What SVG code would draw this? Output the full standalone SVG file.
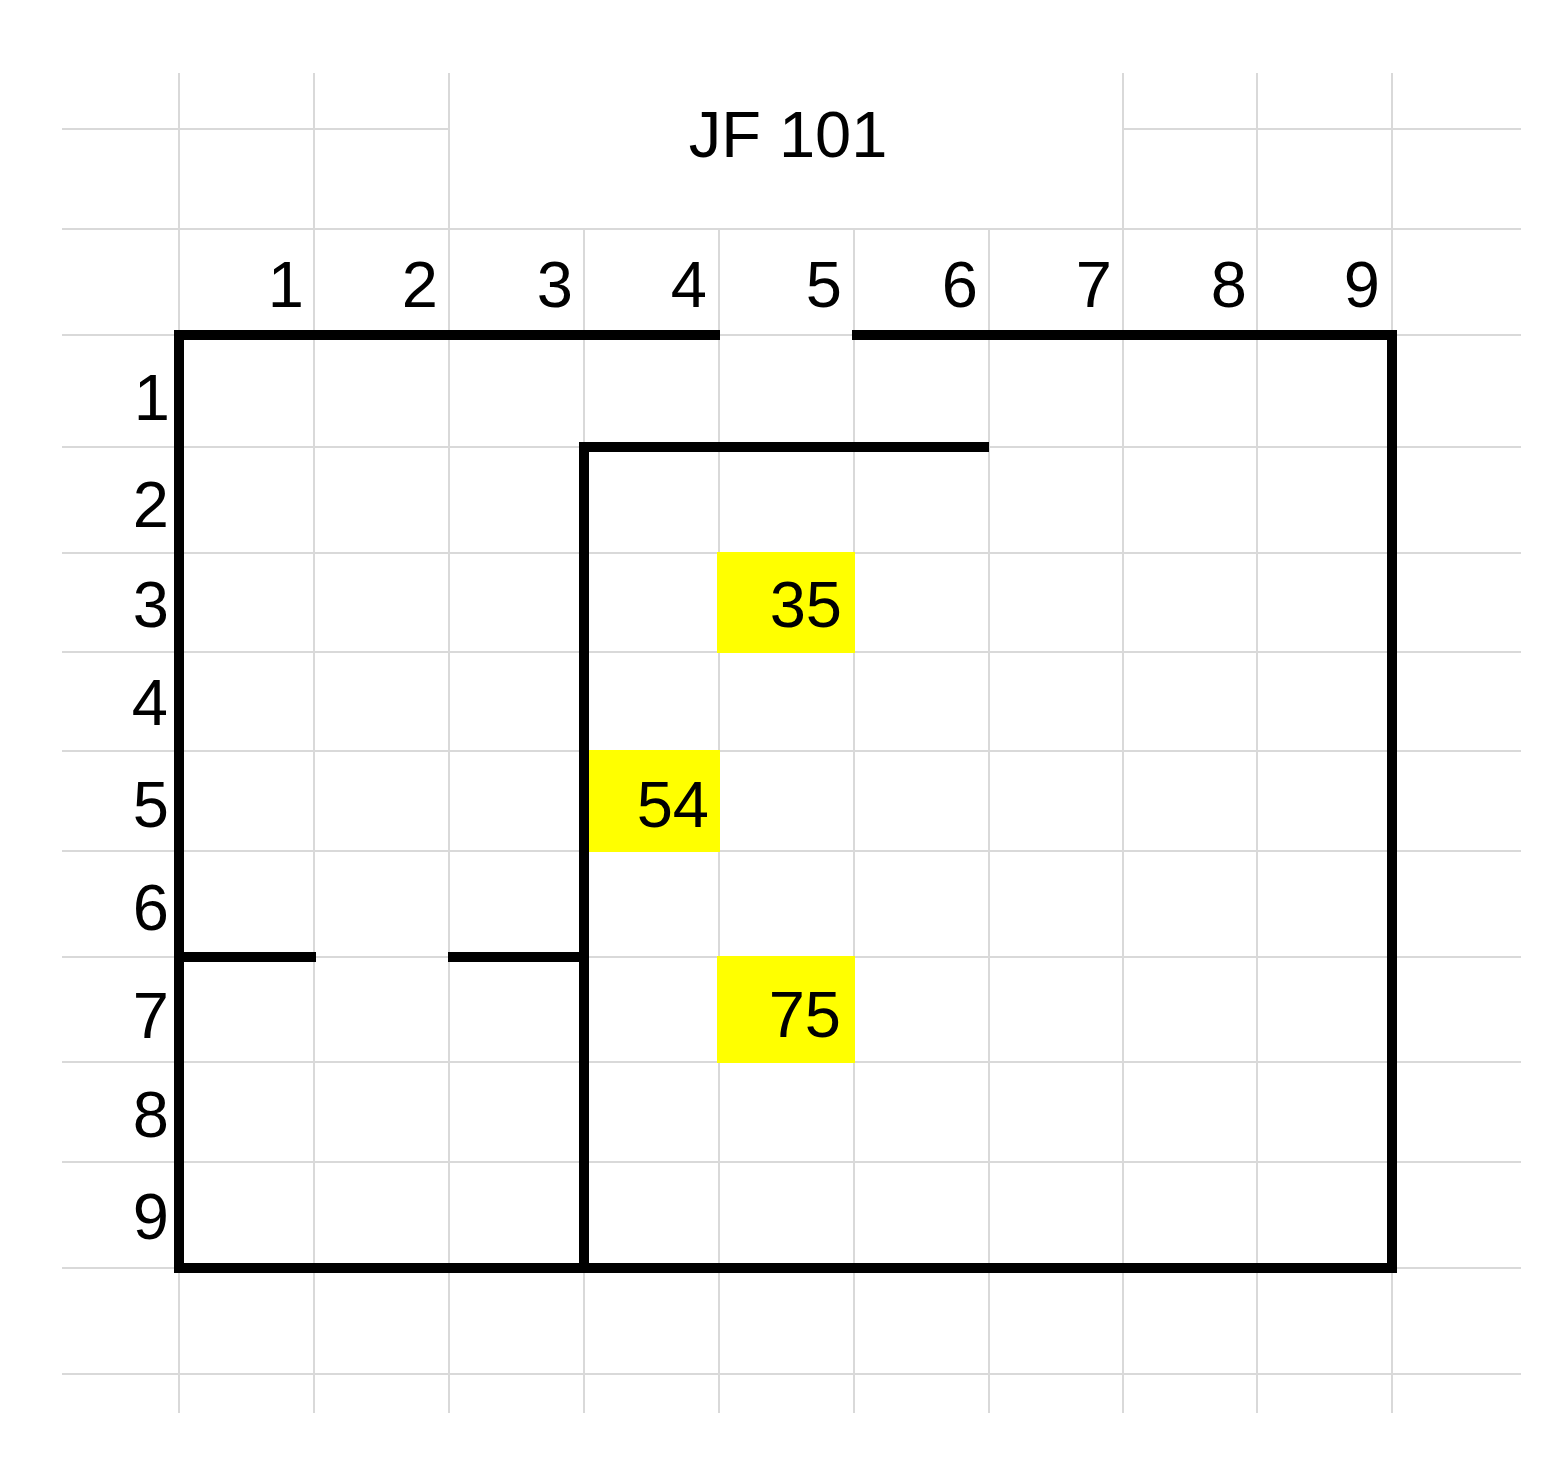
<svg xmlns="http://www.w3.org/2000/svg" width="1565" height="1479" viewBox="0 0 1565 1479">
<style>
.g{stroke:#d9d9d9;stroke-width:2;fill:none}
.b{stroke:#000;stroke-width:10;fill:none;stroke-linejoin:miter;stroke-linecap:butt}
.t{font-family:"Liberation Sans",Arial,sans-serif;font-size:65px;fill:#000;text-anchor:end}
.hl{fill:#ffff00}
</style>
<rect width="1565" height="1479" fill="#fff"/>
<g id="grid">
<path class="g" d="M62,129H449M1123,129H1521M62,229H1521M62,335H1521M62,447H1521M62,553H1521M62,652H1521M62,751H1521M62,851H1521M62,957H1521M62,1062H1521M62,1162H1521M62,1268H1521M62,1374H1521"/>
<path class="g" d="M179,73V1413M314,73V1413M449,73V1413M1123,73V1413M1257,73V1413M1392,73V1413M584,229V1413M719,229V1413M854,229V1413M989,229V1413"/>
</g>
<g id="cell-35"><rect class="hl" x="717" y="552" width="138" height="101"/><text class="t" x="842" y="627">35</text></g>
<g id="cell-54"><rect class="hl" x="584" y="750" width="136" height="102"/><text class="t" x="709" y="827">54</text></g>
<g id="cell-75"><rect class="hl" x="717" y="956" width="138" height="107"/><text class="t" x="841" y="1037">75</text></g>
<g id="connectors">
<path class="b" d="M720,335H179V1268H1392V335H852"/>
<path class="b" d="M989,447H584V1268"/>
<path class="b" d="M179,957H316M448,957H584"/>
</g>
<g id="title"><text class="t" style="text-anchor:middle" x="788" y="157">JF 101</text></g>
<g id="col-headers">
<text class="t" x="304" y="307">1</text>
<text class="t" x="438" y="307">2</text>
<text class="t" x="573" y="307">3</text>
<text class="t" x="707" y="307">4</text>
<text class="t" x="842" y="307">5</text>
<text class="t" x="978" y="307">6</text>
<text class="t" x="1112" y="307">7</text>
<text class="t" x="1247" y="307">8</text>
<text class="t" x="1380" y="307">9</text>
</g>
<g id="row-headers">
<text class="t" x="170" y="420">1</text>
<text class="t" x="169" y="527">2</text>
<text class="t" x="169" y="627">3</text>
<text class="t" x="168" y="725">4</text>
<text class="t" x="169" y="827">5</text>
<text class="t" x="169" y="930">6</text>
<text class="t" x="169" y="1038">7</text>
<text class="t" x="169" y="1137">8</text>
<text class="t" x="169" y="1239">9</text>
</g>
</svg>
